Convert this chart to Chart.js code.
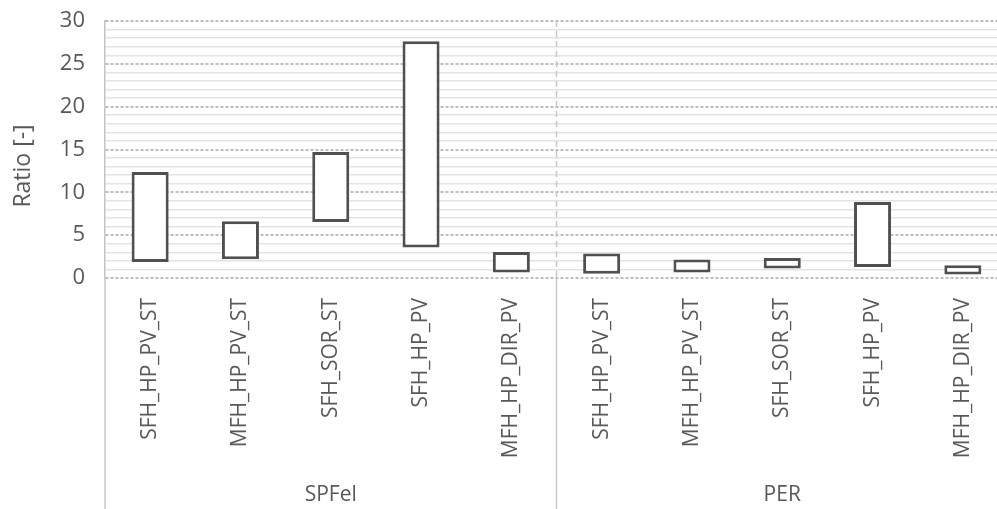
<!DOCTYPE html>
<html>
<head>
<meta charset="utf-8">
<script src="https://cdn.jsdelivr.net/npm/chart.js@4.4.0/dist/chart.umd.min.js"></script>
<style>
    html, body { margin: 0; padding: 0; background: #fff; overflow: hidden; }
</style>
</head>
<body>
<canvas id="grafica" width="1010" height="509"></canvas>
<script>
// Datos de la grafica
const categorias = [
    "SFH_HP_PV_ST", "MFH_HP_PV_ST", "SFH_SOR_ST", "SFH_HP_PV", "MFH_HP_DIR_PV",
    "SFH_HP_PV_ST", "MFH_HP_PV_ST", "SFH_SOR_ST", "SFH_HP_PV", "MFH_HP_DIR_PV"
];
const grupos = ["SPFel", "PER"];
const tamGrupo = 5;
const minimos = [1.87, 2.18, 6.54, 3.55, 0.63, 0.51, 0.63, 1.10, 1.28, 0.40];
const maximos = [12.37, 6.62, 14.70, 27.63, 3.03, 2.85, 2.15, 2.33, 8.87, 1.48];
const tituloY = "Ratio [-]";

const fuente = "'Open Sans', 'DejaVu Sans', sans-serif";
const gris = "#595959";

const rangos = minimos.map((v, i) => [v, maximos[i]]);

// Separadores de grupos, titulo Y y etiquetas de grupo
const grupoPlugin = {
    id: "grupos",
    afterDraw(chart) {
        const ctx = chart.ctx;
        const x = chart.scales.x;
        const area = chart.chartArea;
        const h = chart.height;
        const cortes = [x.left];
        for (let g = 1; g < grupos.length; g++) {
            const i = g * tamGrupo;
            cortes.push((x.getPixelForValue(i - 1) + x.getPixelForValue(i)) / 2);
        }
        cortes.push(x.right);

        ctx.save();
        ctx.strokeStyle = "#c8c8c8";
        ctx.lineWidth = 1.5;
        cortes.forEach((cx, k) => {
            ctx.setLineDash([]);
            ctx.beginPath();
            ctx.moveTo(cx, area.bottom);
            ctx.lineTo(cx, h);
            ctx.stroke();
            if (k > 0 && k < cortes.length - 1) {
                ctx.setLineDash([6, 4]);
                ctx.beginPath();
                ctx.moveTo(cx, area.top);
                ctx.lineTo(cx, area.bottom);
                ctx.stroke();
            }
        });
        ctx.setLineDash([]);

        ctx.fillStyle = gris;
        ctx.font = "21px " + fuente;
        ctx.textAlign = "center";
        ctx.textBaseline = "middle";
        grupos.forEach((g, k) => {
            ctx.fillText(g, (cortes[k] + cortes[k + 1]) / 2, 495);
        });

        ctx.font = "23px " + fuente;
        ctx.translate(23, 166);
        ctx.rotate(-Math.PI / 2);
        ctx.fillText(tituloY, 0, 0);
        ctx.restore();
    }
};

new Chart(document.getElementById("grafica").getContext("2d"), {
    type: "bar",
    data: {
        labels: categorias,
        datasets: [{
            label: "Rango",
            data: rangos,
            backgroundColor: "#ffffff",
            borderColor: "#505050",
            borderWidth: 3,
            borderSkipped: false,
            barPercentage: 0.41,
            categoryPercentage: 1.0
        }]
    },
    options: {
        responsive: false,
        animation: false,
        layout: {
            padding: { top: 21, right: 2, left: 0, bottom: 0 }
        },
        plugins: {
            legend: { display: false },
            tooltip: { enabled: false }
        },
        scales: {
            x: {
                grid: { display: false },
                border: { display: false },
                ticks: {
                    color: gris,
                    font: { family: fuente, size: 21 },
                    minRotation: 90,
                    maxRotation: 90,
                    autoSkip: false,
                    padding: 12
                },
                afterFit(scale) {
                    scale.height = 231;
                }
            },
            y: {
                min: 0,
                max: 30,
                grid: {
                    drawTicks: true,
                    tickLength: 20,
                    tickColor: "rgba(0,0,0,0)",
                    color: c => (c.tick && c.tick.value % 5 === 0) ? "#bdbdbd" : "#e3e3e3",
                    lineWidth: c => (c.tick && c.tick.value % 5 === 0) ? 2 : 1.5
                },
                border: {
                    color: "#c4c4c4",
                    width: 1.5,
                    dash: c => (c.tick && c.tick.value % 5 === 0) ? [3, 2] : []
                },
                ticks: {
                    stepSize: 1,
                    autoSkip: false,
                    color: gris,
                    font: { family: fuente, size: 22 },
                    padding: 0,
                    callback: v => (v % 5 === 0 ? v : "")
                },
                afterFit(scale) {
                    scale.width = 105;
                }
            }
        }
    },
    plugins: [grupoPlugin]
});
</script>
</body>
</html>
